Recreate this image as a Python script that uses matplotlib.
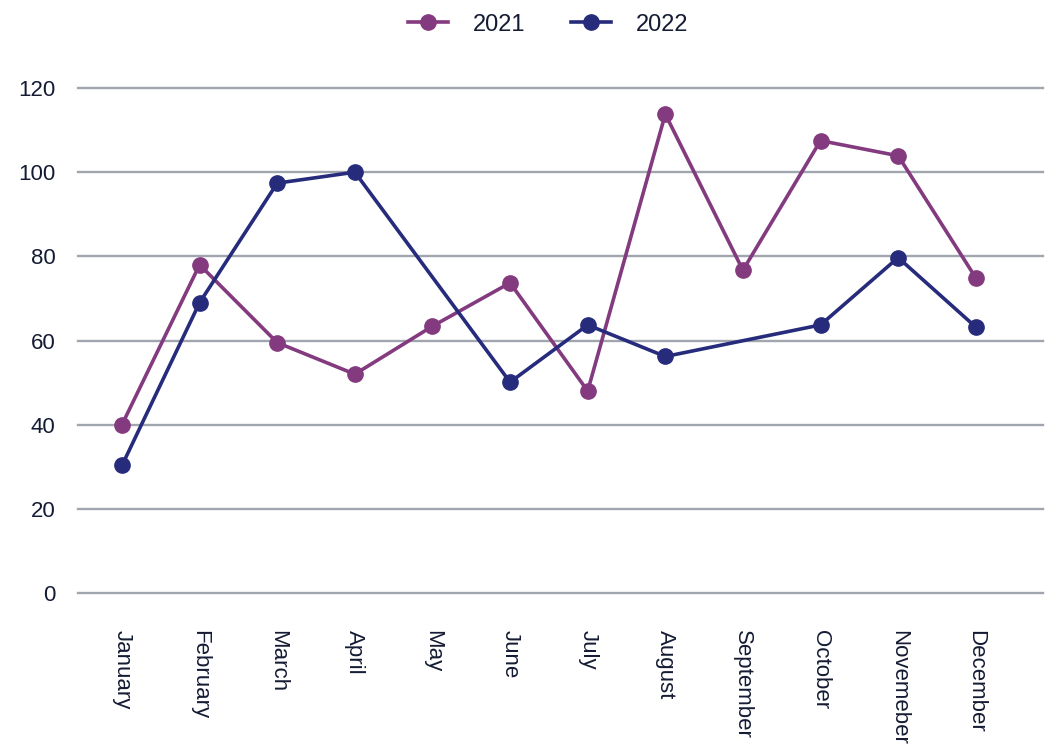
import numpy as np
import matplotlib.pyplot as plt

# Monthly values (None = no point that month)
months = ["January", "February", "March", "April", "May", "June", "July",
          "August", "September", "October", "Novemeber", "December"]
values_2021 = [40, 78, 59.5, 52, 63.4, 73.7, 48, 113.8, 76.7, 107.5, 103.9, 74.9]
values_2022 = [30.3, 69, 97.4, 100, None, 50.1, 63.7, 56.2, None, 63.7, 79.7, 63.2]
series_names = ["2021", "2022"]
series_colors = ["#833a7e", "#262b7b"]

text_color = "#141b33"
grid_color = "#a0a5ae"

plt.rcParams['font.family'] = ['Liberation Sans', 'DejaVu Sans']

fig = plt.figure(figsize=(10.48, 7.55), dpi=100)
ax = fig.add_axes([0.0744, 0.2146, 0.9206, 0.6688])

x = np.arange(len(months))
for name, vals, color in zip(series_names, [values_2021, values_2022], series_colors):
    y = np.array([np.nan if v is None else v for v in vals], dtype=float)
    ok = ~np.isnan(y)
    # span the gaps: connect only the months that have a value
    ax.plot(x[ok], y[ok], color=color, lw=2.6, marker='o', ms=11,
            label=name, clip_on=False, zorder=3)

ax.set_ylim(0, 120)
ax.set_yticks(np.arange(0, 121, 20))
ax.set_xlim(-0.567, 11.863)
ax.set_xticks(x)
ax.set_xticklabels(months, rotation=270, ha='center', va='top')

ax.grid(axis='y', color=grid_color, lw=1.7)
for gl in ax.get_ygridlines():
    gl.set_clip_on(False)
ax.set_axisbelow(True)
for s in ax.spines.values():
    s.set_visible(False)
ax.tick_params(axis='both', length=0, colors=text_color, labelsize=16)
ax.tick_params(axis='y', pad=16)
ax.tick_params(axis='x', pad=27)

fig.legend(loc='upper center', bbox_to_anchor=(0.523, 1.01), ncol=2,
           frameon=False, fontsize=17, handlelength=1.7, columnspacing=1.9,
           handletextpad=1.05, labelcolor=text_color)

fig.savefig("out.png", dpi=100, facecolor='white')
